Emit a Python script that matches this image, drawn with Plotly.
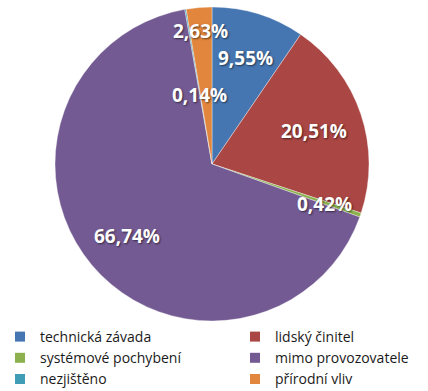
import math
import plotly.graph_objects as go

categories = ["technická závada", "lidský činitel", "systémové pochybení",
              "mimo provozovatele", "nezjištěno", "přírodní vliv"]
shares = [9.55, 20.51, 0.42, 66.74, 0.14, 2.63]
label_texts = ["9,55%", "20,51%", "0,42%", "66,74%", "0,14%", "2,63%"]

colors = ["#4676B1", "#AA4643", "#8BB04C", "#745A93", "#3F9DB5", "#E2863D"]
label_radius = [0.71, 0.68, 0.75, 0.70, 0.45, 0.85]
legend_column = ["legend", "legend2", "legend", "legend2", "legend", "legend2"]

W, H = 428, 391
cx_px, cy_px, r_px = 212, 165, 158
legend_top_px = 321          # legend placed in container coords; plot area ends here
P = legend_top_px            # height of plot area (paper) in pixels

fig = go.Figure()
fig.add_trace(go.Pie(
    labels=categories, values=shares, sort=False, direction="clockwise",
    rotation=0, textinfo="none", hoverinfo="label+percent", showlegend=False,
    marker=dict(colors=colors, line=dict(color="rgba(255,255,255,0.6)", width=0.6)),
    domain=dict(x=[(cx_px - r_px) / W, (cx_px + r_px) / W],
                y=[max(0, 1 - (cy_px + r_px) / P), 1 - (cy_px - r_px) / P]),
))

# legend entries (two columns like the original)
for name, col, lg in zip(categories, colors, legend_column):
    fig.add_trace(go.Scatter(
        x=[None], y=[None], mode="markers", name=name, legend=lg,
        marker=dict(symbol="square", size=10, color=col), hoverinfo="skip",
    ))

total = sum(shares)
cum = 0.0
annotations = []
for v, t, f in zip(shares, label_texts, label_radius):
    mid = (cum + v / 2) / total * 2 * math.pi
    cum += v
    x_px = cx_px + r_px * f * math.sin(mid)
    y_px = cy_px - r_px * f * math.cos(mid)
    annotations.append(dict(
        x=x_px / W, y=1 - y_px / P, xref="paper", yref="paper",
        text=t, showarrow=False, xanchor="center", yanchor="middle",
        font=dict(family="Open Sans", size=19, color="white", weight="bold",
                  shadow="1px 1px 2px rgba(0,0,0,0.55)"),
    ))

legend_font = dict(family="Open Sans", size=14, color="#1a1a1a")
legend_y = 1 - legend_top_px / H
fig.update_layout(
    width=W, height=H, margin=dict(l=0, r=0, t=0, b=0),
    paper_bgcolor="white", plot_bgcolor="white",
    xaxis=dict(visible=False), yaxis=dict(visible=False),
    annotations=annotations,
    showlegend=True,
    legend=dict(orientation="v", x=-8 / W, xanchor="left", y=legend_y, yanchor="top",
                xref="paper", yref="container",
                font=legend_font, itemclick=False, itemdoubleclick=False,
                bgcolor="rgba(0,0,0,0)"),
    legend2=dict(orientation="v", x=235 / W, xanchor="left", y=legend_y, yanchor="top",
                 xref="paper", yref="container",
                 font=legend_font, itemclick=False, itemdoubleclick=False,
                 bgcolor="rgba(0,0,0,0)"),
)

fig.write_html("out.html")
